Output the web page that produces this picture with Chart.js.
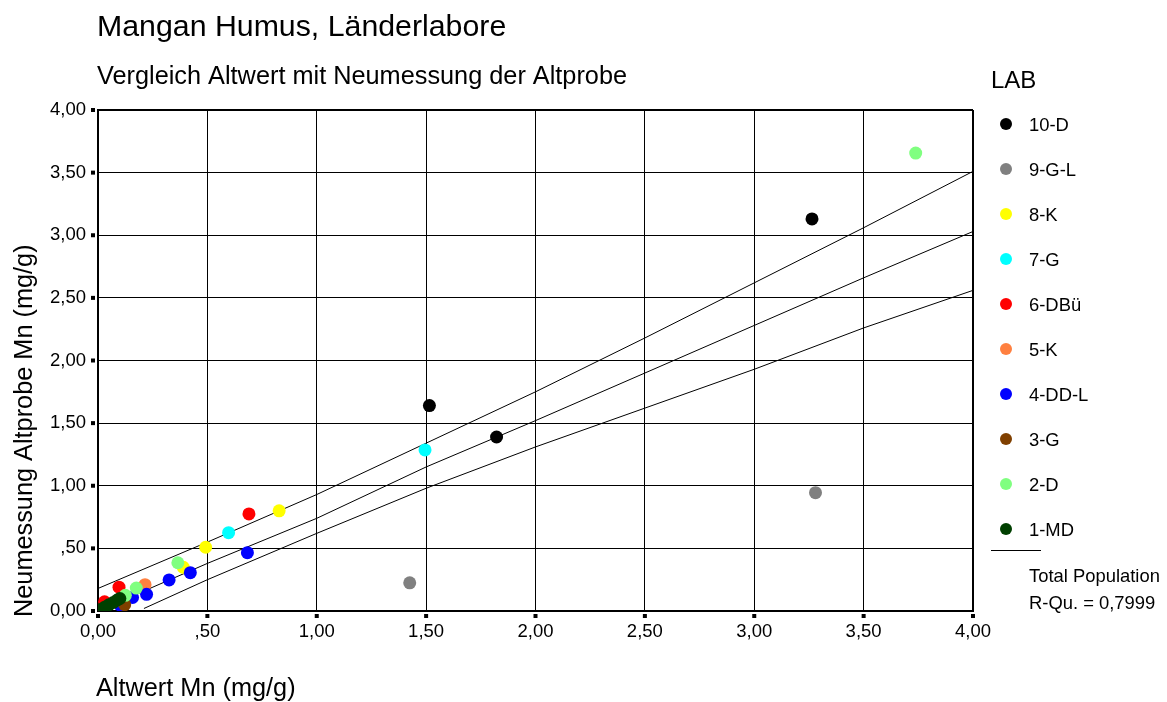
<!DOCTYPE html>
<html>
<head>
<meta charset="utf-8">
<title>Mangan Humus, Länderlabore</title>
<script src="https://cdn.jsdelivr.net/npm/chart.js"></script>
<style>
  html, body { margin: 0; padding: 0; background: #fff; }
  #wrap { position: relative; width: 1167px; height: 702px; }
</style>
</head>
<body>
<div id="wrap"><canvas id="mnChart" width="1167" height="702"></canvas></div>
<script>
// Mangan im Humus: Altwert (x) gegen Neumessung der Altprobe (y), je Labor
const labs = ['10-D', '9-G-L', '8-K', '7-G', '6-DBü', '5-K', '4-DD-L', '3-G', '2-D', '1-MD'];
const labColors = ['#000000', '#808080', '#ffff00', '#00ffff', '#ff0000', '#ff8040', '#0000ff', '#804000', '#80ff80', '#004000'];

// Altwert Mn (mg/g), gleiche Reihenfolge wie labs
const altwert = [
  [1.515, 1.822, 3.264],
  [1.425, 3.280],
  [0.828, 0.492, 0.390],
  [1.495, 0.597],
  [0.690, 0.096, 0.030],
  [0.215],
  [0.683, 0.422, 0.325, 0.222, 0.158, 0.100, 0.025],
  [0.122, 0.010],
  [3.738, 0.365, 0.175, 0.125],
  [0.010, 0.030, 0.050, 0.070, 0.088, 0.100]
];
// Neumessung Altprobe Mn (mg/g)
const neumessung = [
  [1.640, 1.389, 3.130],
  [0.225, 0.945],
  [0.800, 0.509, 0.349],
  [1.286, 0.625],
  [0.775, 0.190, 0.074],
  [0.210],
  [0.466, 0.306, 0.248, 0.133, 0.108, 0.048, 0.010],
  [0.050, 0.005],
  [3.656, 0.385, 0.183, 0.125],
  [0.010, 0.030, 0.050, 0.068, 0.088, 0.100]
];

// Regressionsgerade mit oberer und unterer Grenzlinie
const fitX = [0, 0.5, 1, 1.5, 2, 2.5, 3, 3.5, 4];
const fitMitte = [0.00, 0.38, 0.74, 1.15, 1.52, 1.90, 2.28, 2.66, 3.03];
const fitOben = [0.18, 0.55, 0.93, 1.34, 1.75, 2.18, 2.62, 3.06, 3.51];
const fitUntenX = [0.21, 0.5, 1, 1.5, 2, 2.5, 3, 3.5, 4];
const fitUnten = [0.02, 0.25, 0.62, 0.98, 1.31, 1.62, 1.93, 2.26, 2.56];

const tickLabels = ['0,00', ',50', '1,00', '1,50', '2,00', '2,50', '3,00', '3,50', '4,00'];

const titel = 'Mangan Humus, Länderlabore';
const untertitel = 'Vergleich Altwert mit Neumessung der Altprobe';
const xTitel = 'Altwert Mn (mg/g)';
const yTitel = 'Neumessung Altprobe Mn (mg/g)';
const legendTitel = 'LAB';
const fitLabel = ['Total Population', 'R-Qu. = 0,7999'];

const FONT = '"Liberation Sans", Arial, sans-serif';

const toPoints = (xs, ys) => xs.map((x, i) => ({ x: x, y: ys[i] }));

const datasets = labs.map((lab, i) => ({
  label: lab,
  data: toPoints(altwert[i], neumessung[i]),
  backgroundColor: labColors[i],
  borderWidth: 0,
  pointRadius: 6.5,
  order: labs.length - i
}));

const fitLine = (xs, ys) => ({
  label: 'fit',
  data: toPoints(xs, ys),
  showLine: true,
  borderColor: '#000',
  borderWidth: 1,
  pointRadius: 0,
  fill: false,
  order: 20
});
datasets.push(fitLine(fitX, fitOben), fitLine(fitX, fitMitte), fitLine(fitUntenX, fitUnten));

// Titel, Achsentitel, Tickmarken und Legende direkt auf den Canvas
const beschriftung = {
  id: 'beschriftung',
  afterDraw(chart) {
    const ctx = chart.ctx;
    const area = chart.chartArea;
    const xs = chart.scales.x, ys = chart.scales.y;
    ctx.save();
    ctx.fillStyle = '#000';

    ys.ticks.forEach(t => {
      const py = ys.getPixelForValue(t.value);
      ctx.fillRect(area.left - 7, py - 2, 4, 4);
    });
    xs.ticks.forEach(t => {
      const px = xs.getPixelForValue(t.value);
      ctx.fillRect(px - 2, area.bottom + 3, 4, 4);
    });

    ctx.textAlign = 'left';
    ctx.textBaseline = 'alphabetic';
    ctx.font = '30.3px ' + FONT;
    ctx.fillText(titel, area.left - 1, 36);
    ctx.font = '25.3px ' + FONT;
    ctx.fillText(untertitel, area.left - 1, 84);
    ctx.font = '25.3px ' + FONT;
    ctx.fillText(xTitel, area.left - 2, 696);

    ctx.save();
    ctx.translate(32, area.bottom + 6);
    ctx.rotate(-Math.PI / 2);
    ctx.font = '25.3px ' + FONT;
    ctx.fillText(yTitel, 0, 0);
    ctx.restore();

    // Legende
    const lx = area.right + 18;
    ctx.font = '24px ' + FONT;
    ctx.fillText(legendTitel, lx, 88);
    ctx.font = '18.4px ' + FONT;
    ctx.textBaseline = 'middle';
    labs.forEach((lab, i) => {
      const cy = 124 + i * 45;
      ctx.fillStyle = labColors[i];
      ctx.beginPath();
      ctx.arc(lx + 15, cy, 6, 0, Math.PI * 2);
      ctx.fill();
      ctx.fillStyle = '#000';
      ctx.fillText(lab, lx + 38, cy + 2);
    });
    ctx.strokeStyle = '#000';
    ctx.lineWidth = 1;
    ctx.beginPath();
    ctx.moveTo(lx, 550.5);
    ctx.lineTo(lx + 50, 550.5);
    ctx.stroke();
    ctx.fillText(fitLabel[0], lx + 38, 577);
    ctx.fillText(fitLabel[1], lx + 38, 604);
    ctx.restore();
  }
};

const gridOpts = {
  color: '#000',
  lineWidth: (c) => (c.index === tickLabels.length - 1 ? 2 : 1),
  drawTicks: false
};

new Chart(document.getElementById('mnChart'), {
  type: 'scatter',
  data: { datasets: datasets },
  options: {
    responsive: false,
    animation: false,
    events: [],
    layout: { padding: { left: 0, top: 110, right: 194, bottom: 51 } },
    plugins: {
      legend: { display: false },
      title: { display: false },
      tooltip: { enabled: false }
    },
    scales: {
      x: {
        type: 'linear',
        min: 0,
        max: 4,
        grid: gridOpts,
        border: { display: true, color: '#000', width: 2 },
        ticks: {
          stepSize: 0.5,
          padding: 10,
          color: '#000',
          font: { family: FONT, size: 18.5 },
          maxRotation: 0,
          callback: (v) => tickLabels[Math.round(v * 2)]
        },
        afterFit: (s) => { s.height = 40; }
      },
      y: {
        type: 'linear',
        min: 0,
        max: 4,
        grid: gridOpts,
        border: { display: true, color: '#000', width: 2 },
        ticks: {
          stepSize: 0.5,
          padding: 12,
          color: '#000',
          font: { family: FONT, size: 18.5 },
          callback: (v) => tickLabels[Math.round(v * 2)]
        },
        afterFit: (s) => { s.width = 98; }
      }
    }
  },
  plugins: [beschriftung]
});
</script>
</body>
</html>
